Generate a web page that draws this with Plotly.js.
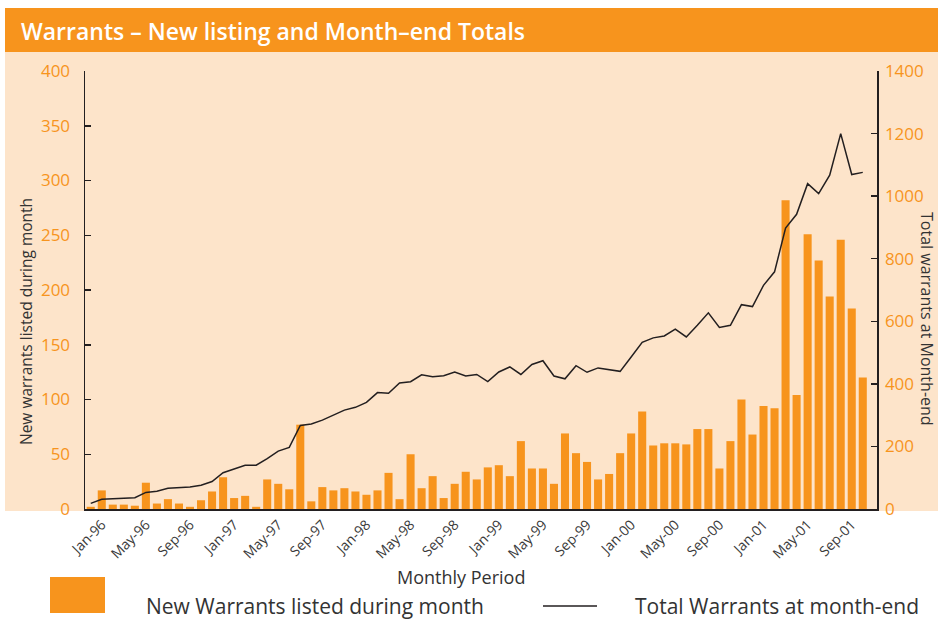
<!DOCTYPE html>
<html>
<head>
<meta charset="utf-8">
<script src="https://cdn.plot.ly/plotly-3.0.1.min.js"></script>
<style>html,body{margin:0;padding:0;background:#fff;}#chart{width:938px;height:621px;}</style>
</head>
<body>
<div id="chart"></div>
<script>
// ---- DATA ----
const months = [
  "Dec-95",
  "Jan-96","Feb-96","Mar-96","Apr-96","May-96","Jun-96","Jul-96","Aug-96","Sep-96","Oct-96","Nov-96","Dec-96",
  "Jan-97","Feb-97","Mar-97","Apr-97","May-97","Jun-97","Jul-97","Aug-97","Sep-97","Oct-97","Nov-97","Dec-97",
  "Jan-98","Feb-98","Mar-98","Apr-98","May-98","Jun-98","Jul-98","Aug-98","Sep-98","Oct-98","Nov-98","Dec-98",
  "Jan-99","Feb-99","Mar-99","Apr-99","May-99","Jun-99","Jul-99","Aug-99","Sep-99","Oct-99","Nov-99","Dec-99",
  "Jan-00","Feb-00","Mar-00","Apr-00","May-00","Jun-00","Jul-00","Aug-00","Sep-00","Oct-00","Nov-00","Dec-00",
  "Jan-01","Feb-01","Mar-01","Apr-01","May-01","Jun-01","Jul-01","Aug-01","Sep-01","Oct-01"
];
const newListings = [
  2,
  17,4,4,3,24,5,9,5,2,8,16,29,
  10,12,2,27,23,18,77,7,20,17,19,16,
  13,17,33,9,50,19,30,10,23,34,27,38,
  40,30,62,37,37,23,69,51,43,27,32,51,
  69,89,58,60,60,59,73,73,37,62,100,68,
  94,92,282,104,251,227,194,246,183,120
];
const monthEndTotals = [
  18,
  31,33,35,36,53,57,66,69,70,76,88,116,
  127,140,140,161,185,197,267,272,284,300,316,325,
  341,372,370,403,407,429,423,426,438,425,430,407,
  438,454,430,462,474,425,416,458,437,451,446,440,
  486,533,547,553,575,550,587,627,580,587,653,647,
  715,758,898,942,1040,1008,1067,1200,1069,1076
];
const xTickLabels = ["Jan-96","May-96","Sep-96","Jan-97","May-97","Sep-97","Jan-98","May-98","Sep-98",
  "Jan-99","May-99","Sep-99","Jan-00","May-00","Sep-00","Jan-01","May-01","Sep-01"];
const leftTicks = [0,50,100,150,200,250,300,350,400];
const rightTicks = [0,200,400,600,800,1000,1200,1400];

const titleText = "Warrants – New listing and Month–end Totals";
const barName = "New Warrants listed during month";
const lineName = "Total Warrants at month-end";

// ---- LAYOUT HELPERS (pixel -> paper) ----
const L = 85, R = 877, T = 71, B = 509;
const px = x => (x - L) / (R - L);
const py = y => (B - y) / (B - T);

const ORANGE = "#F7941D";
const PEACH = "#FDE4CA";
const INK = "#231F20";
const FONT = "Open Sans, Noto Sans, sans-serif";

const traces = [
  {
    type: "bar", x: months, y: newListings, name: barName,
    marker: {color: ORANGE, line: {width: 0}},
    yaxis: "y", hoverinfo: "x+y"
  },
  {
    type: "scatter", mode: "lines", x: months, y: monthEndTotals, name: lineName,
    line: {color: INK, width: 1.5}, yaxis: "y2"
  }
];

const layout = {
  width: 938, height: 621,
  margin: {l: L, r: 938 - R, t: T, b: 621 - B, pad: 0},
  paper_bgcolor: "#ffffff",
  plot_bgcolor: "rgba(0,0,0,0)",
  showlegend: false,
  bargap: 0.27,
  font: {family: FONT, color: "#333333"},
  xaxis: {
    type: "category",
    range: [-0.52, 71.29],
    tickmode: "array", tickvals: xTickLabels, ticktext: xTickLabels,
    tickangle: -45,
    tickfont: {family: FONT, size: 14, color: "#3a3a3a"},
    showline: true, linecolor: INK, linewidth: 2,
    ticks: "", showgrid: false, zeroline: false,
    fixedrange: true
  },
  yaxis: {
    range: [0, 400],
    tickmode: "array", tickvals: leftTicks,
    tickfont: {family: FONT, size: 17, color: ORANGE},
    showline: true, linecolor: INK, linewidth: 1.5,
    ticks: "inside", ticklen: 6, tickwidth: 1.5, tickcolor: INK,
    ticklabelstandoff: 10,
    showgrid: false, zeroline: false
  },
  yaxis2: {
    range: [0, 1400], overlaying: "y", side: "right",
    tickmode: "array", tickvals: rightTicks,
    tickfont: {family: FONT, size: 17, color: ORANGE},
    showline: true, linecolor: INK, linewidth: 1.5,
    ticks: "inside", ticklen: 6, tickwidth: 1.5, tickcolor: INK,
    ticklabelstandoff: 3,
    showgrid: false, zeroline: false
  },
  shapes: [
    // peach panel
    {type: "rect", xref: "paper", yref: "paper", layer: "below",
     x0: px(5), x1: px(938), y0: py(511), y1: py(52),
     fillcolor: PEACH, line: {width: 0}},
    // title bar
    {type: "rect", xref: "paper", yref: "paper", layer: "below",
     x0: px(5), x1: px(938), y0: py(52), y1: py(8),
     fillcolor: ORANGE, line: {width: 0}},
    // legend: bar swatch
    {type: "rect", xref: "paper", yref: "paper",
     x0: px(50), x1: px(105), y0: py(613), y1: py(577),
     fillcolor: ORANGE, line: {width: 0}},
    // legend: line swatch
    {type: "line", xref: "paper", yref: "paper",
     x0: px(543), x1: px(597), y0: py(606), y1: py(606),
     line: {color: INK, width: 1.5}}
  ],
  annotations: [
    {text: titleText, xref: "paper", yref: "paper", x: px(19), y: py(31),
     xanchor: "left", yanchor: "middle", showarrow: false,
     font: {family: FONT, size: 23, color: "#ffffff", weight: 600}},
    {text: "New warrants listed during month", xref: "paper", yref: "paper",
     x: px(26), y: py(322), textangle: -90, xanchor: "center", yanchor: "middle",
     showarrow: false, font: {family: FONT, size: 15.5, color: "#333333"}},
    {text: "Total warrants at Month-end", xref: "paper", yref: "paper",
     x: px(927), y: py(319), textangle: 90, xanchor: "center", yanchor: "middle",
     showarrow: false, font: {family: FONT, size: 16, color: "#333333"}},
    {text: "Monthly Period", xref: "paper", yref: "paper",
     x: px(461), y: py(577), xanchor: "center", yanchor: "middle",
     showarrow: false, font: {family: FONT, size: 18, color: "#333333"}},
    {text: barName, xref: "paper", yref: "paper",
     x: px(144), y: py(606), xanchor: "left", yanchor: "middle",
     showarrow: false, font: {family: FONT, size: 21, color: "#333333"}},
    {text: lineName, xref: "paper", yref: "paper",
     x: px(633), y: py(606), xanchor: "left", yanchor: "middle",
     showarrow: false, font: {family: FONT, size: 21, color: "#333333"}}
  ]
};

Plotly.newPlot("chart", traces, layout, {displayModeBar: false, staticPlot: true});
</script>
</body>
</html>
